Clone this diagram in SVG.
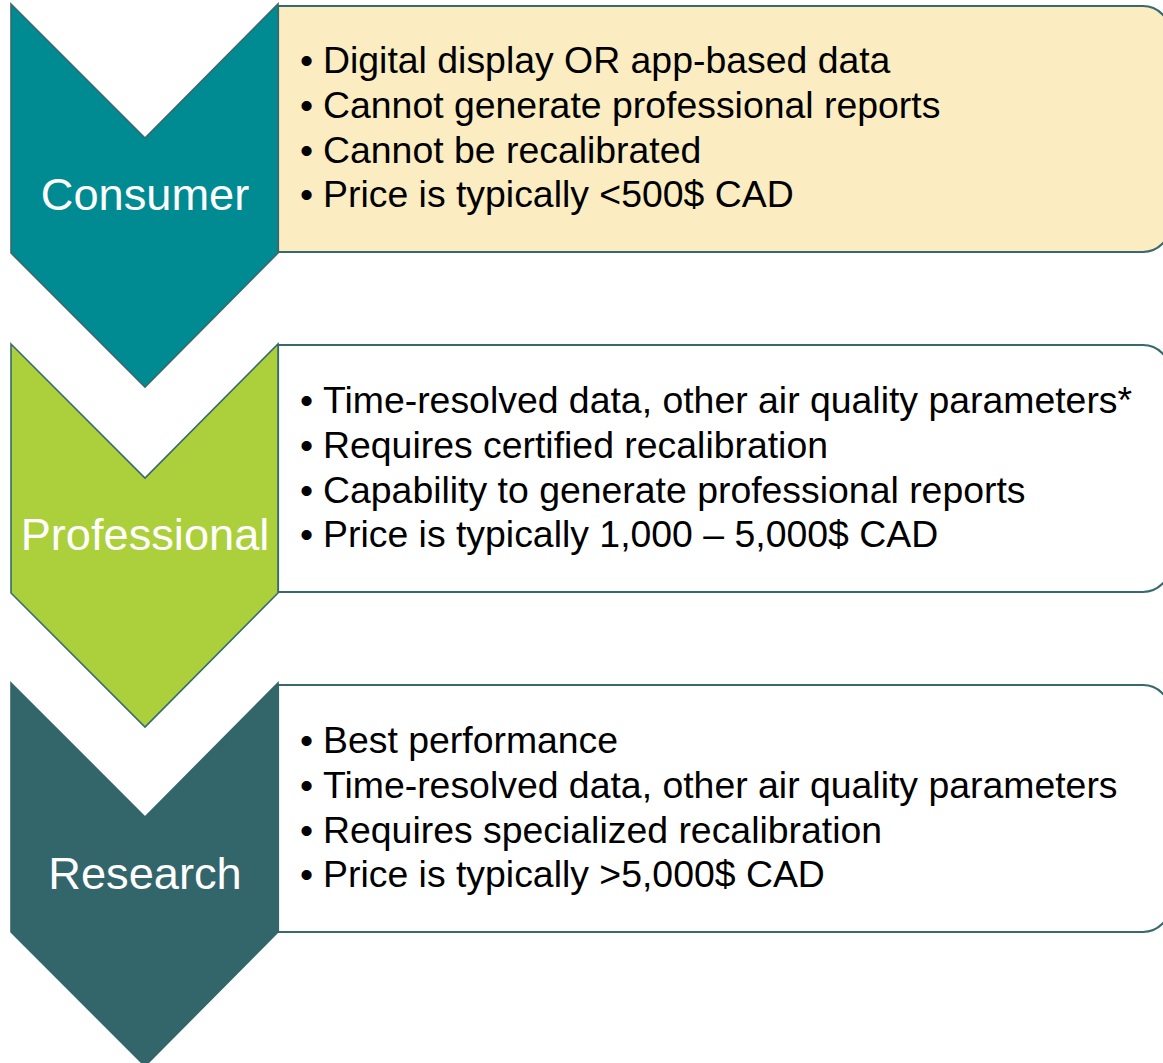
<svg xmlns="http://www.w3.org/2000/svg" width="1163" height="1063" viewBox="0 0 1163 1063">
<style>
.box{stroke:#37696d;stroke-width:2.2}
.chev{stroke:#37696d;stroke-width:1.6;stroke-linejoin:miter}
.lbl{font-family:"Liberation Sans",Arial,sans-serif;font-size:45.2px;fill:#ffffff;text-anchor:middle}
.txt{font-family:"Liberation Sans",Arial,sans-serif;font-size:37.4px;fill:#000000}
</style>
<rect width="1163" height="1063" fill="#ffffff"/>
<g id="consumer">
<path class="box" d="M278 6 H1143 A27 27 0 0 1 1170 33 V225 A27 27 0 0 1 1143 252 H278 Z" fill="#fbecc1"/>
<path class="chev" d="M11 4 L145 138 L278 4 L278 253 L145 387 L11 253 Z" fill="#008b93"/>
<text class="lbl" x="145" y="210">Consumer</text>
<g class="txt">
<text x="300" y="73">•</text><text x="323" y="73">Digital display OR app-based data</text>
<text x="300" y="118">•</text><text x="323" y="118">Cannot generate professional reports</text>
<text x="300" y="163">•</text><text x="323" y="163">Cannot be recalibrated</text>
<text x="300" y="207">•</text><text x="323" y="207">Price is typically &lt;500$ CAD</text>
</g>
</g>
<g id="professional">
<path class="box" d="M278 345 H1143 A27 27 0 0 1 1170 372 V565 A27 27 0 0 1 1143 592 H278 Z" fill="#ffffff"/>
<path class="chev" d="M11 344 L145 478 L278 344 L278 593 L145 727 L11 593 Z" fill="#acd03b"/>
<text class="lbl" x="145" y="550">Professional</text>
<g class="txt">
<text x="300" y="413">•</text><text x="323" y="413">Time-resolved data, other air quality parameters*</text>
<text x="300" y="458">•</text><text x="323" y="458">Requires certified recalibration</text>
<text x="300" y="503">•</text><text x="323" y="503">Capability to generate professional reports</text>
<text x="300" y="547">•</text><text x="323" y="547">Price is typically 1,000 – 5,000$ CAD</text>
</g>
</g>
<g id="research">
<path class="box" d="M278 685 H1143 A27 27 0 0 1 1170 712 V905 A27 27 0 0 1 1143 932 H278 Z" fill="#ffffff"/>
<path d="M11 683 L145 817 L278 683 L278 932 L145 1066 L11 932 Z" fill="#33666b" stroke="#33666b" stroke-width="1.6"/>
<text class="lbl" x="145" y="889">Research</text>
<g class="txt">
<text x="300" y="753">•</text><text x="323" y="753">Best performance</text>
<text x="300" y="798">•</text><text x="323" y="798">Time-resolved data, other air quality parameters</text>
<text x="300" y="843">•</text><text x="323" y="843">Requires specialized recalibration</text>
<text x="300" y="887">•</text><text x="323" y="887">Price is typically &gt;5,000$ CAD</text>
</g>
</g>
<g id="connectors"></g>
</svg>
